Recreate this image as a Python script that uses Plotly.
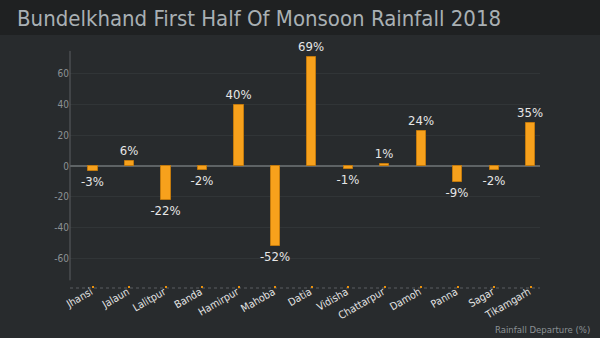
import plotly.graph_objects as go

districts = ["Jhansi", "Jalaun", "Lalitpur", "Banda", "Hamirpur", "Mahoba", "Datia",
             "Vidisha", "Chattarpur", "Damoh", "Panna", "Sagar", "Tikamgarh"]
bar_values = [-3, 3.5, -22, -2.4, 40, -52, 71, -2, 1.3, 22.5, -10.5, -2.5, 28]
labels = ["-3%", "6%", "-22%", "-2%", "40%", "-52%", "69%", "-1%", "1%", "24%", "-9%", "-2%", "35%"]
y_ticks = [-60, -40, -20, 0, 20, 40, 60]
y_tick_text = ["-60", "-40", "-20", "0", "20", "40", "60"]

FONT = "DejaVu Sans Condensed"
X_RANGE = [-0.63, 12.25]

xs = list(range(len(districts)))

fig = go.Figure()
fig.add_trace(go.Bar(
    x=xs, y=bar_values, width=0.25,
    marker=dict(color="#f7a11c", line=dict(color="#c27a0e", width=1)),
    text=labels, textposition="outside", cliponaxis=False, constraintext="none",
    textangle=0,
    textfont=dict(color="#e6e6e6", size=13, family=FONT),
))
# invisible trace so the label axis (x2) is drawn
fig.add_trace(go.Scatter(
    x=xs, y=bar_values, xaxis="x2", yaxis="y", mode="markers",
    marker=dict(opacity=0, size=1), hoverinfo="skip", showlegend=False,
))

fig.update_layout(
    width=600, height=338,
    paper_bgcolor="#282b2d", plot_bgcolor="#282b2d",
    margin=dict(l=70, r=60, t=50, b=50, autoexpand=False),
    showlegend=False,
    title=dict(text="Bundelkhand First Half Of Monsoon Rainfall 2018",
               x=17/600, xanchor="left", xref="container",
               y=1-18/338, yanchor="middle",
               font=dict(family=FONT, size=22, color="#a9b0b4")),
    xaxis=dict(range=X_RANGE, tickmode="array", automargin=False,
               tickvals=xs, showticklabels=False,
               ticks="inside", ticklen=2, tickwidth=2,
               tickcolor="#e8900c", showgrid=False, zeroline=False, showline=False),
    xaxis2=dict(range=X_RANGE, tickmode="array", automargin=False, overlaying="x",
                anchor="free", position=5/238, side="bottom",
                tickvals=xs, ticktext=districts, tickangle=-30, ticks="",
                showgrid=False, zeroline=False, showline=False, ticklabelshift=-2,
                tickfont=dict(family=FONT, size=10.5, color="#e4e4e4")),
    yaxis=dict(range=[-79.5, 75.6], tickmode="array", tickvals=y_ticks,
               ticktext=y_tick_text, automargin=False,
               showgrid=True, gridcolor="#313537", gridwidth=1,
               zeroline=True, zerolinecolor="#5e6365", zerolinewidth=1.5,
               showline=False, ticks="",
               tickfont=dict(family=FONT, size=10, color="#8c9295")),
    bargap=0,
)

# title band
fig.add_shape(type="rect", xref="paper", yref="paper", x0=-70/470, x1=1+60/470,
              y0=1+15/238, y1=1+50/238, fillcolor="#1f2122", line=dict(width=0), layer="below")
# y axis line
fig.add_shape(type="line", xref="paper", yref="y", x0=0, x1=0, y0=-74.5, y1=75,
              line=dict(color="#5a5f62", width=1))
# dotted x baseline
fig.add_shape(type="line", xref="paper", yref="paper", x0=0, x1=1, y0=0, y1=0,
              line=dict(color="#5a5f62", width=1, dash="dot"), layer="below")

fig.add_annotation(text="Rainfall Departure (%)", xref="paper", yref="paper",
                   x=1+52/470, y=-41/238, xanchor="right", yanchor="middle",
                   showarrow=False, font=dict(family=FONT, size=9.5, color="#8c9295"))

fig.write_html("out.html")
